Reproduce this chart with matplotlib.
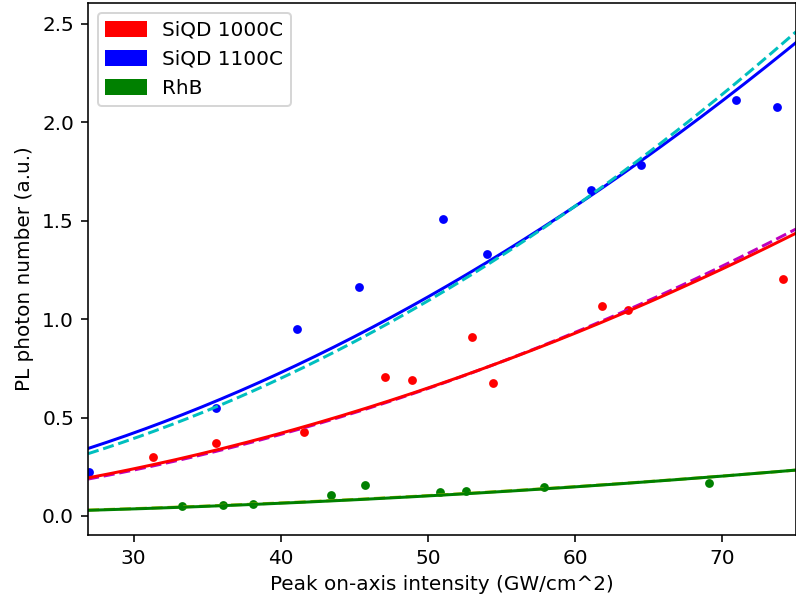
import numpy as np
import matplotlib
matplotlib.use("Agg")
import matplotlib.pyplot as plt
import matplotlib.patches as mpatches

# ---- data ----
red_x = [31.3, 35.6, 41.6, 47.1, 48.9, 53.0, 54.4, 61.8, 63.6, 74.1]
red_y = [0.300, 0.373, 0.428, 0.705, 0.690, 0.910, 0.674, 1.066, 1.047, 1.203]

blue_x = [27.0, 35.6, 41.1, 45.3, 51.0, 54.0, 61.1, 64.5, 70.9, 73.7]
blue_y = [0.224, 0.550, 0.949, 1.165, 1.508, 1.330, 1.655, 1.780, 2.114, 2.077]

green_x = [33.3, 36.1, 38.1, 43.4, 45.7, 50.8, 52.6, 57.9, 69.1]
green_y = [0.051, 0.057, 0.063, 0.108, 0.159, 0.121, 0.129, 0.147, 0.168]

# power-law fits y = a * x**n (free exponent, and fixed n=2)
red_fit = (3.10e-4, 1.955)
red_fit2 = (2.59e-4, 2.0)
blue_fit = (6.58e-4, 1.90)
blue_fit2 = (4.37e-4, 2.0)
green_fit = (3.487e-5, 2.04)
green_fit2 = (4.14e-5, 2.0)

legend_labels = ["SiQD 1000C", "SiQD 1100C", "RhB"]

xlim = (26.9, 75.0)
ylim = (-0.094, 2.607)

# ---- figure ----
W, H, DPI = 796, 607, 144
fig = plt.figure(figsize=(W / DPI, H / DPI), dpi=DPI)
ax = fig.add_axes([88 / W, (H - 534.5) / H, (796 - 88) / W, (534.5 - 2.5) / H])

xf = np.linspace(xlim[0], xlim[1], 300)

def pw(p):
    return p[0] * xf ** p[1]

ax.plot(red_x, red_y, 'o', color='r', ms=4.4, mec='none')
ax.plot(blue_x, blue_y, 'o', color='b', ms=4.4, mec='none')
ax.plot(green_x, green_y, 'o', color='g', ms=4.4, mec='none')

ax.plot(xf, pw(red_fit2), '--', color='m', lw=1.5)
ax.plot(xf, pw(red_fit), '-', color='r', lw=1.5)
ax.plot(xf, pw(blue_fit), '-', color='b', lw=1.5)
ax.plot(xf, pw(blue_fit2), '--', color='c', lw=1.5)
ax.plot(xf, pw(green_fit2), '--', color='y', lw=1.5)
ax.plot(xf, pw(green_fit), '-', color='g', lw=1.5)

ax.set_xlim(*xlim)
ax.set_ylim(*ylim)
ax.set_xticks([30, 40, 50, 60, 70])
ax.set_yticks([0.0, 0.5, 1.0, 1.5, 2.0, 2.5])

ax.set_xlabel("Peak on-axis intensity (GW/cm^2)")
ax.set_ylabel("PL photon number (a.u.)")

handles = [mpatches.Patch(color=c, label=l) for c, l in zip(['r', 'b', 'g'], legend_labels)]
ax.legend(handles=handles, loc='upper left')

fig.savefig("out.png", dpi=DPI)
